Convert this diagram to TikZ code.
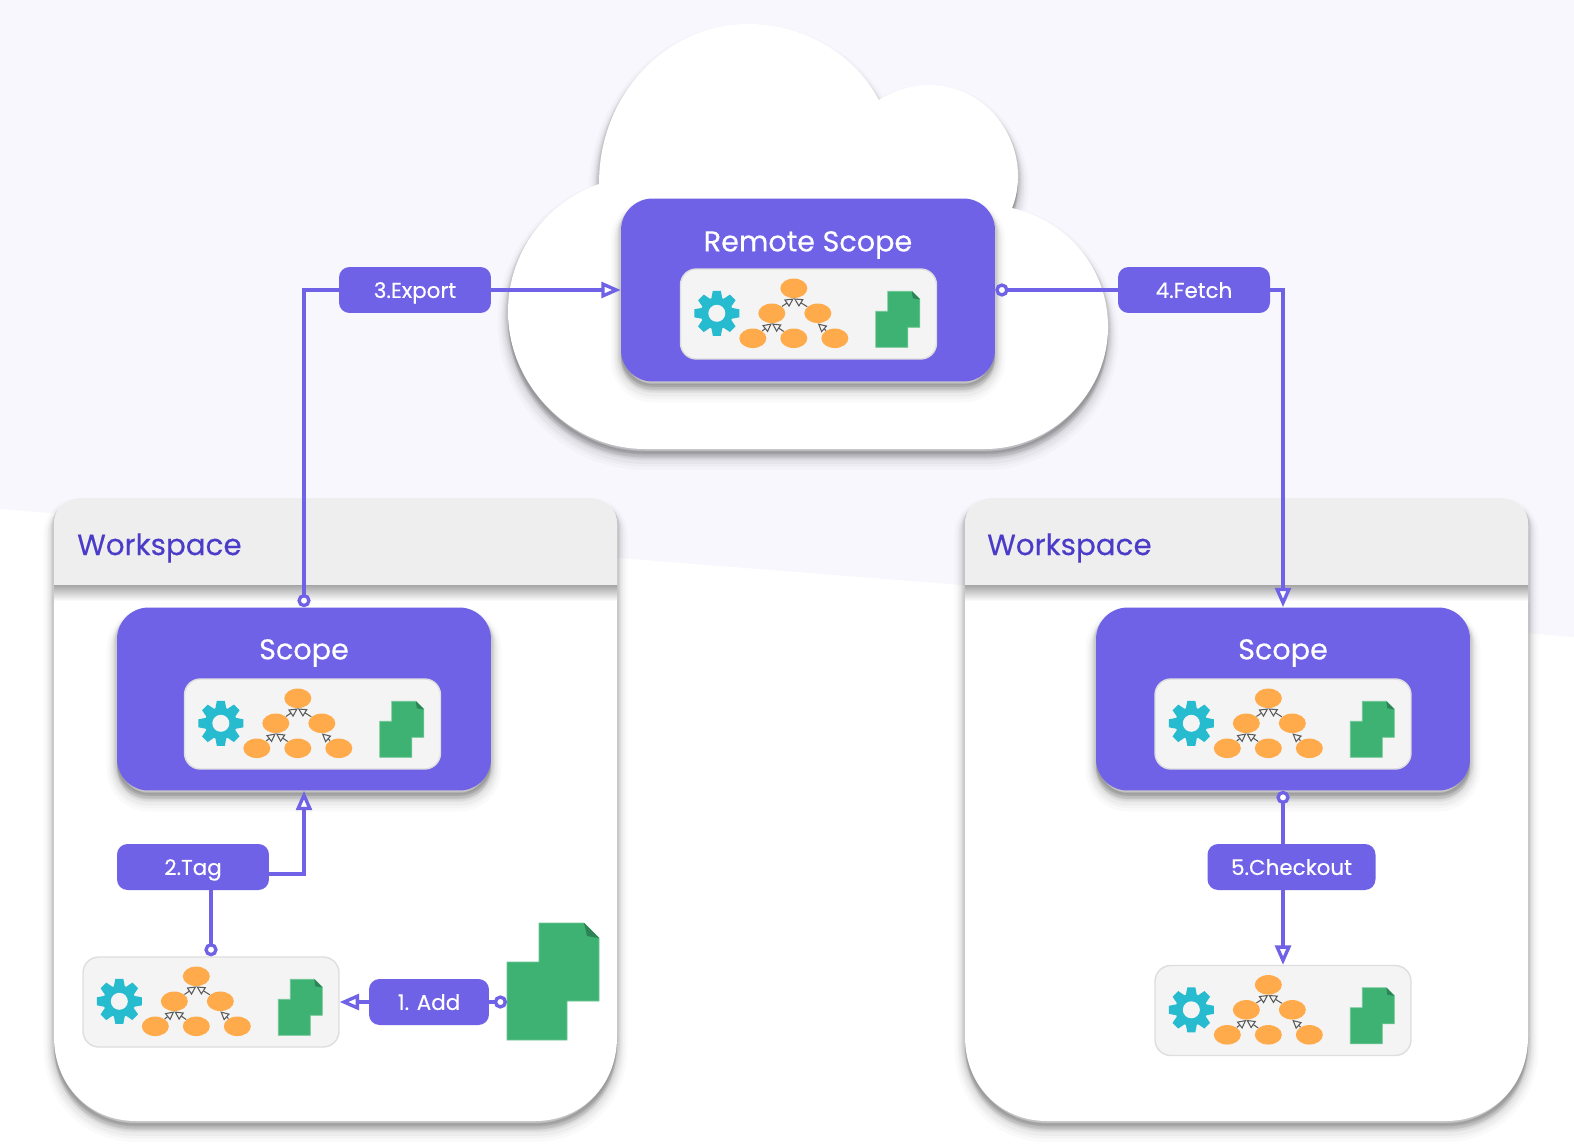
\documentclass[tikz,border=0pt]{standalone}
\usepackage{fontspec}
\setmainfont{Poppins}[FakeBold=0.3]
\usetikzlibrary{arrows.meta, calc, shapes.geometric}
\definecolor{scopepurple}{RGB}{111,98,230}
\definecolor{titlepurple}{RGB}{74,59,200}
\definecolor{skytint}{RGB}{247,247,253}
\definecolor{headgrey}{RGB}{238,238,238}
\definecolor{panelgrey}{RGB}{244,244,244}
\definecolor{nodeorange}{RGB}{255,171,76}
\definecolor{filegreen}{RGB}{62,178,114}
\definecolor{foldgreen}{RGB}{44,132,86}
\definecolor{gearcyan}{RGB}{39,187,208}

\tikzset{
  softshade/.style={
    preaction={draw=black, fill=black, opacity=.02, line width=12pt, transform canvas={yshift=-6pt}},
    preaction={draw=black, fill=black, opacity=.025, line width=9pt, transform canvas={yshift=-5.5pt}},
    preaction={draw=black, fill=black, opacity=.03, line width=7pt, transform canvas={yshift=-5pt}},
    preaction={draw=black, fill=black, opacity=.04, line width=5pt, transform canvas={yshift=-4pt}},
    preaction={draw=black, fill=black, opacity=.05, line width=3.5pt, transform canvas={yshift=-3pt}},
    preaction={draw=black, fill=black, opacity=.06, line width=2pt, transform canvas={yshift=-2pt}},
  },
  scopebox/.style={rectangle, rounded corners=18pt, fill=scopepurple, softshade,
                   minimum width=7.48cm, minimum height=3.66cm},
  panel/.style={rectangle, rounded corners=9pt, fill=panelgrey, draw=black!13, line width=0.8pt,
                minimum width=5.12cm, minimum height=1.8cm},
  steplabel/.style={rectangle, rounded corners=6pt, fill=scopepurple, text=white,
                    minimum height=0.92cm, text height=1.95ex, text depth=0.3ex,
                    font=\fontsize{12.2}{15}\selectfont},
  scopetitle/.style={text=white, font=\fontsize{16.3}{20}\selectfont},
  wstitle/.style={text=titlepurple, anchor=west, font=\fontsize{16.7}{20}\selectfont},
  wire/.style={draw=scopepurple, line width=1.9pt},
  startdot/.style={{Circle[open, fill=white, length=7.5pt, width=7.5pt]}-},
  endtip/.style={-{Triangle[open, fill=white, length=11pt, width=9pt]}},
  treenode/.style={ellipse, fill=nodeorange, inner sep=0pt, minimum width=0.54cm, minimum height=0.39cm},
  treeedge/.style={draw=black!65, line width=0.6pt, -{Triangle[open, length=5pt, width=5pt]}},
  filesheet/.style={fill=filegreen, draw=filegreen!75!white, line width=0.4pt},
  comp/.pic={
    % gear
    \fill[gearcyan] (37,45) circle[radius=16];
    \foreach \a in {0,45,...,315}
      \fill[gearcyan, rotate around={\a:(37,45)}] (31,33) -- (33,22.5) -- (41,22.5) -- (43,33) -- cycle;
    \fill[panelgrey] (37,45) circle[radius=8.5];
    % dependency tree
    \node[treenode] (-top) at (114,20) {};
    \node[treenode] (-ml)  at (92,45)  {};
    \node[treenode] (-mr)  at (138,45) {};
    \node[treenode] (-bl)  at (73,70)  {};
    \node[treenode] (-bm)  at (114,70) {};
    \node[treenode] (-br)  at (155,70) {};
    \draw[treeedge] (-ml) -- (-top.south);
    \draw[treeedge] (-mr) -- (-top.south);
    \draw[treeedge] (-bl) -- (-ml.south);
    \draw[treeedge] (-bm) -- (-ml.south);
    \draw[treeedge] (-br) -- (-mr.south);
    % files
    \draw[filesheet] (208,23) -- (232,23) -- (240,31) -- (240,59) -- (228,59) -- (228,79)
       -- (196,79) -- (196,43) -- (208,43) -- cycle;
    \fill[foldgreen] (232,23) -- (240,31) -- (233,30) -- cycle;
  },
}

\begin{document}
\begin{tikzpicture}[x=0.02cm, y=-0.02cm]

\useasboundingbox (0,0) rectangle (1574,1148);
\fill[white] (0,0) rectangle (1574,1148);
\fill[skytint] (0,0) -- (1574,0) -- (1574,637) -- (962,585) -- (0,509) -- cycle;

% cloud
\path[fill=white, softshade] (599,184)
  .. controls (599,90) and (670,24) .. (748,24)
  .. controls (805,24) and (855,55) .. (879,100)
  .. controls (895,90) and (912,85) .. (929,85)
  .. controls (980,85) and (1018,128) .. (1018,176)
  .. controls (1018,188) and (1016,198) .. (1012,208)
  .. controls (1070,222) and (1108,270) .. (1108,327)
  .. controls (1108,395) and (1050,449) .. (985,449)
  -- (645,449)
  .. controls (570,449) and (508,385) .. (508,312)
  .. controls (508,250) and (548,202) .. (599,184) -- cycle;

% workspaces
\foreach \wx in {54, 965} {
  \path[fill=white, softshade] (\wx,525)
    -- (\wx,1037) .. controls (\wx,1085) and (\wx+35,1121) .. (\wx+82,1121)
    -- (\wx+481,1121) .. controls (\wx+528,1121) and (\wx+563,1085) .. (\wx+563,1037)
    -- (\wx+563,525) .. controls (\wx+563,508) and (\wx+551,498) .. (\wx+535,498)
    -- (\wx+28,498) .. controls (\wx+12,498) and (\wx,508) .. (\wx,525) -- cycle;
  \fill[headgrey] (\wx,585) -- (\wx,525)
    .. controls (\wx,508) and (\wx+12,498) .. (\wx+28,498)
    -- (\wx+535,498) .. controls (\wx+551,498) and (\wx+563,508) .. (\wx+563,525)
    -- (\wx+563,585) -- cycle;
  \shade[top color=black!35, bottom color=white] (\wx,585) rectangle (\wx+563,601);
}
\node[wstitle] (wsLtitle) at (71,548)  {Workspace};
\node[wstitle] (wsRtitle) at (981,548) {Workspace};

% scopes
\node[scopebox] (remote) at (808,290)  {};
\node[scopebox] (scopeL) at (304,699)  {};
\node[scopebox] (scopeR) at (1283,699) {};
\node[scopetitle] (remoteTitle) at (808,245)  {Remote Scope};
\node[scopetitle] (scopeLTitle) at (304,653)  {Scope};
\node[scopetitle] (scopeRTitle) at (1283,653) {Scope};

\node[panel] (panelRemote) at (808.5,314) {};
\node[panel] (panelL)      at (312.5,724) {};
\node[panel] (panelR)      at (1283,724)  {};
\node[panel] (panelLow)    at (211,1002)  {};
\node[panel] (panelRLow)   at (1283,1010.5) {};
\foreach \p in {panelRemote, panelL, panelR, panelLow, panelRLow}
  \pic (\p-c) at (\p.north west) {comp};

% big file
\draw[filesheet] (539,923) -- (584,923) -- (599,938) -- (599,1001) -- (567,1001) -- (567,1040)
  -- (507,1040) -- (507,962) -- (539,962) -- cycle;
\fill[foldgreen] (584,923) -- (599,938) -- (587,936) -- cycle;
\coordinate (bigfile) at (507,1002);

% step labels
\node[steplabel, minimum width=3.04cm] (export)   at (415,290)    {3.Export};
\node[steplabel, minimum width=3.04cm] (fetch)    at (1194,290)   {4.Fetch};
\node[steplabel, minimum width=3.04cm] (tag)      at (193,867)    {2.Tag};
\node[steplabel, minimum width=3.36cm] (checkout) at (1291.5,867) {5.Checkout};
\node[steplabel, minimum width=2.40cm] (add)      at (429,1002)   {1. Add};

\coordinate (tagout) at (269,874);

% connectors
\draw[wire, startdot] (scopeL.north) |- (export.west);
\draw[wire, endtip]   (export.east) -- (remote.west);
\draw[wire, startdot] (remote.east) -- (fetch.west);
\draw[wire, endtip]   (fetch.east) -| (scopeR.north);
\draw[wire, startdot] (panelLow.north) -- (panelLow.north |- tag.south);
\draw[wire, endtip]   (tagout) -| (scopeL.south);
\draw[wire, startdot] (bigfile) -- (add.east);
\draw[wire, endtip]   (add.west) -- (panelLow.east);
\draw[wire, startdot] (scopeR.south) -- (scopeR.south |- checkout.north);
\draw[wire, endtip]   (scopeR.south |- checkout.south) -- (panelRLow.north);

\end{tikzpicture}
\end{document}
